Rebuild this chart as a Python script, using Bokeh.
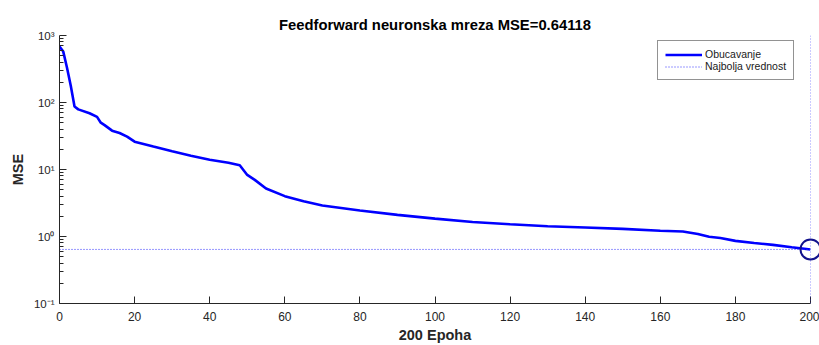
import math
from bokeh.plotting import figure
from bokeh.models import FixedTicker, Span, Legend, LegendItem, Range1d
from bokeh.embed import file_html
from bokeh.resources import INLINE

# ---- data ----
epochs = [0, 1, 2, 3, 4, 5, 8, 10, 11, 12, 14, 16, 18, 20, 25, 30, 35, 40, 45, 48,
          50, 52, 55, 60, 65, 70, 80, 90, 100, 110, 120, 130, 140, 150, 160, 166,
          170, 173, 176, 180, 185, 190, 195, 200]
mse = [685, 575, 330, 178, 87, 79, 69, 61, 50, 46, 38, 35, 31, 26, 22, 18.7, 16, 14, 12.6, 11.6,
       8.3, 7.0, 5.2, 4.0, 3.35, 2.9, 2.45, 2.1, 1.85, 1.65, 1.52, 1.42, 1.36, 1.3, 1.22, 1.19,
       1.09, 0.99, 0.95, 0.86, 0.80, 0.75, 0.69, 0.64118]
best_epoch = 200
best_mse = 0.64118
x_ticks = [0, 20, 40, 60, 80, 100, 120, 140, 160, 180, 200]
y_ticks = [0.1, 1, 10, 100, 1000]
y_tick_labels = ["10\u207b\u00b9", "10\u2070", "10\u00b9", "10\u00b2", "10\u00b3"]
title_text = "Feedforward neuronska mreza MSE=0.64118"
x_label = "200 Epoha"
y_label = "MSE"
legend_labels = ["Obucavanje", "Najbolja vrednost"]

FONT = "Liberation Sans"
AX = "#262626"

p = figure(width=819, height=345, y_axis_type="log",
           x_range=Range1d(0, 200), y_range=Range1d(0.1, 1000),
           output_backend="svg", toolbar_location=None,
           min_border_left=59, min_border_right=9, min_border_top=35, min_border_bottom=41)
p.xgrid.visible = False
p.ygrid.visible = False
p.outline_line_color = None
p.background_fill_color = "white"
p.border_fill_color = "white"

p.title.text = title_text
p.title.align = "center"
p.title.text_font = FONT
p.title.text_font_size = "14.8px"
p.title.text_font_style = "bold"
p.title.text_color = "black"
p.title.standoff = 5

minor = [m * t for t in y_ticks[:-1] for m in range(2, 10)]
p.xaxis.ticker = FixedTicker(ticks=x_ticks, minor_ticks=[])
p.yaxis.ticker = FixedTicker(ticks=y_ticks, minor_ticks=minor)
p.yaxis.major_label_overrides = {t: l for t, l in zip(y_ticks, y_tick_labels)}

for ax in (p.xaxis[0], p.yaxis[0]):
    ax.axis_line_color = AX
    ax.major_tick_line_color = AX
    ax.minor_tick_line_color = AX
    ax.major_tick_in = 7
    ax.major_tick_out = 0
    ax.minor_tick_in = 4
    ax.minor_tick_out = 0
    ax.major_label_text_font = FONT
    ax.major_label_text_color = AX
    ax.axis_label_text_font = FONT
    ax.axis_label_text_font_size = "14.5px"
    ax.axis_label_text_font_style = "bold"
    ax.axis_label_text_color = AX
p.xaxis.major_label_text_font_size = "12px"
p.yaxis.major_label_text_font_size = "11.5px"
p.xaxis.major_label_standoff = 8
p.yaxis.major_label_standoff = 5
p.xaxis.axis_label = x_label
p.yaxis.axis_label = y_label
p.xaxis.axis_label_standoff = 3
p.yaxis.axis_label_standoff = 5

line_r = p.line(epochs, mse, line_color="#0000ff", line_width=2.6)
best_r = p.line([epochs[0], best_epoch], [best_mse, best_mse], line_color="#3030ff",
                line_width=1, line_dash="1 2")
p.add_layout(Span(location=best_epoch, dimension="height", line_color="#3030ff",
                  line_width=1, line_dash="1 2"))
circ = p.scatter([best_epoch], [best_mse], marker="circle", size=20, fill_color=None,
                 line_color="#12128c", line_width=2)
circ.level = "overlay"

legend = Legend(items=[LegendItem(label=legend_labels[0], renderers=[line_r]),
                       LegendItem(label=legend_labels[1], renderers=[best_r])],
                location=(598, 223), border_line_color=AX, border_line_width=0.8,
                background_fill_color="white", background_fill_alpha=1,
                label_text_font=FONT, label_text_font_size="10.5px", label_text_color="#1a1a1a",
                glyph_width=37, glyph_height=11, label_height=11, label_standoff=3,
                spacing=0, padding=7, margin=0)
p.add_layout(legend)

open("out.html", "w").write(file_html(p, INLINE))
